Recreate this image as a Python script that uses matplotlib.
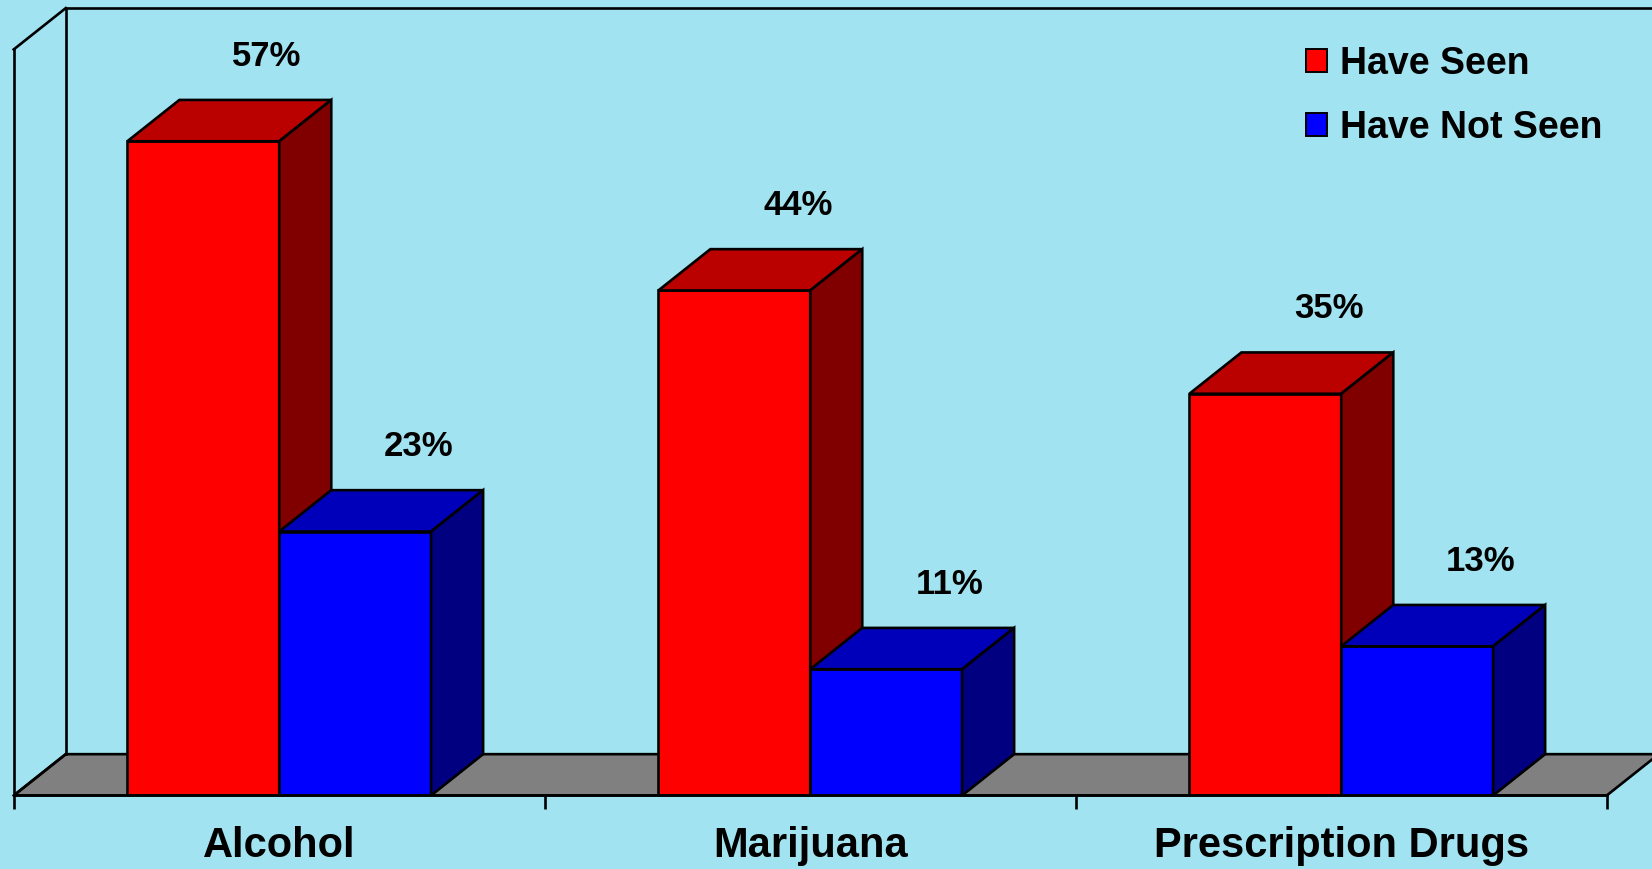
import matplotlib.pyplot as plt
from matplotlib.patches import Polygon, Patch
from matplotlib import font_manager

categories = ['Alcohol', 'Marijuana', 'Prescription Drugs']
have_seen = [57, 44, 35]
have_not_seen = [23, 11, 13]
series_names = ['Have Seen', 'Have Not Seen']

# front / top / side shades for each series
red_shades = ('#FF0000', '#BB0000', '#800000')
blue_shades = ('#0000FF', '#0000BB', '#000080')
bg = '#A1E3F0'

# fake 3d depth, in data units
dx = 0.098
dy = 3.6
bar_w = 0.286
ymax = 65

names = {f.name for f in font_manager.fontManager.ttflist}
narrow = 'Liberation Sans Narrow' if 'Liberation Sans Narrow' in names else 'Liberation Sans'

fig = plt.figure(figsize=(16.52, 8.69), dpi=100, facecolor=bg)
ax = fig.add_axes([0.0083, 0.0846, 0.9643, 0.8585])
ax.set_facecolor(bg)
ax.set_xlim(-0.5, len(categories) - 0.5)
ax.set_ylim(0, ymax)

lw = 1.9
x_left = -0.5
x_right = len(categories) - 0.5

# floor
ax.add_patch(Polygon([(x_left, 0), (x_right, 0), (x_right + dx, dy), (x_left + dx, dy)],
                     closed=True, facecolor='#808080', edgecolor='black', lw=lw, clip_on=False))
# back wall and side wall outline
ax.plot([x_left + dx, x_left + dx, x_right + dx], [dy, ymax + dy, ymax + dy],
        color='black', lw=lw, clip_on=False)
ax.plot([x_left, x_left + dx], [ymax, ymax + dy], color='black', lw=lw, clip_on=False)
ax.plot([x_left, x_left + dx], [0, dy], color='black', lw=lw, clip_on=False)


def draw_bar(x0, h, shades):
    front, top, side = shades
    ax.bar(x0, h, bar_w, align='edge', color=front, edgecolor='black', lw=lw)
    ax.add_patch(Polygon([(x0, h), (x0 + bar_w, h), (x0 + bar_w + dx, h + dy), (x0 + dx, h + dy)],
                         closed=True, facecolor=top, edgecolor='black', lw=lw))
    ax.add_patch(Polygon([(x0 + bar_w, 0), (x0 + bar_w + dx, dy), (x0 + bar_w + dx, h + dy), (x0 + bar_w, h)],
                         closed=True, facecolor=side, edgecolor='black', lw=lw))
    ax.text(x0 + bar_w / 2 + dx + 0.022, h + dy + 3.8, f'{h}%', ha='center', va='center',
            fontsize=25, fontweight='bold', family=narrow)


for i in range(len(categories)):
    draw_bar(i - bar_w, have_seen[i], red_shades)
    draw_bar(i, have_not_seen[i], blue_shades)

# axes styling
for s in ['top', 'right']:
    ax.spines[s].set_visible(False)
for s in ['left', 'bottom']:
    ax.spines[s].set_linewidth(lw)
ax.set_yticks([])
ax.set_xticks([x_left + k for k in range(len(categories) + 1)])
ax.set_xticklabels([])
ax.tick_params(axis='x', which='major', length=10, width=lw, direction='out')
ax.set_xticks(range(len(categories)), minor=True)
ax.set_xticklabels(categories, minor=True, fontsize=30, fontweight='bold', family=narrow)
ax.tick_params(axis='x', which='minor', length=0, pad=22)

handles = [Patch(facecolor=red_shades[0], edgecolor='black', lw=1.4),
           Patch(facecolor=blue_shades[0], edgecolor='black', lw=1.4)]
leg = ax.legend(handles, series_names, loc='upper right', bbox_to_anchor=(1.0186, 1.05),
                frameon=False, prop={'family': 'Liberation Sans', 'weight': 'bold', 'size': 27},
                handlelength=0.56, handleheight=0.56, handletextpad=0.35, labelspacing=0.75)

fig.savefig('out.png', dpi=100, facecolor=bg)
